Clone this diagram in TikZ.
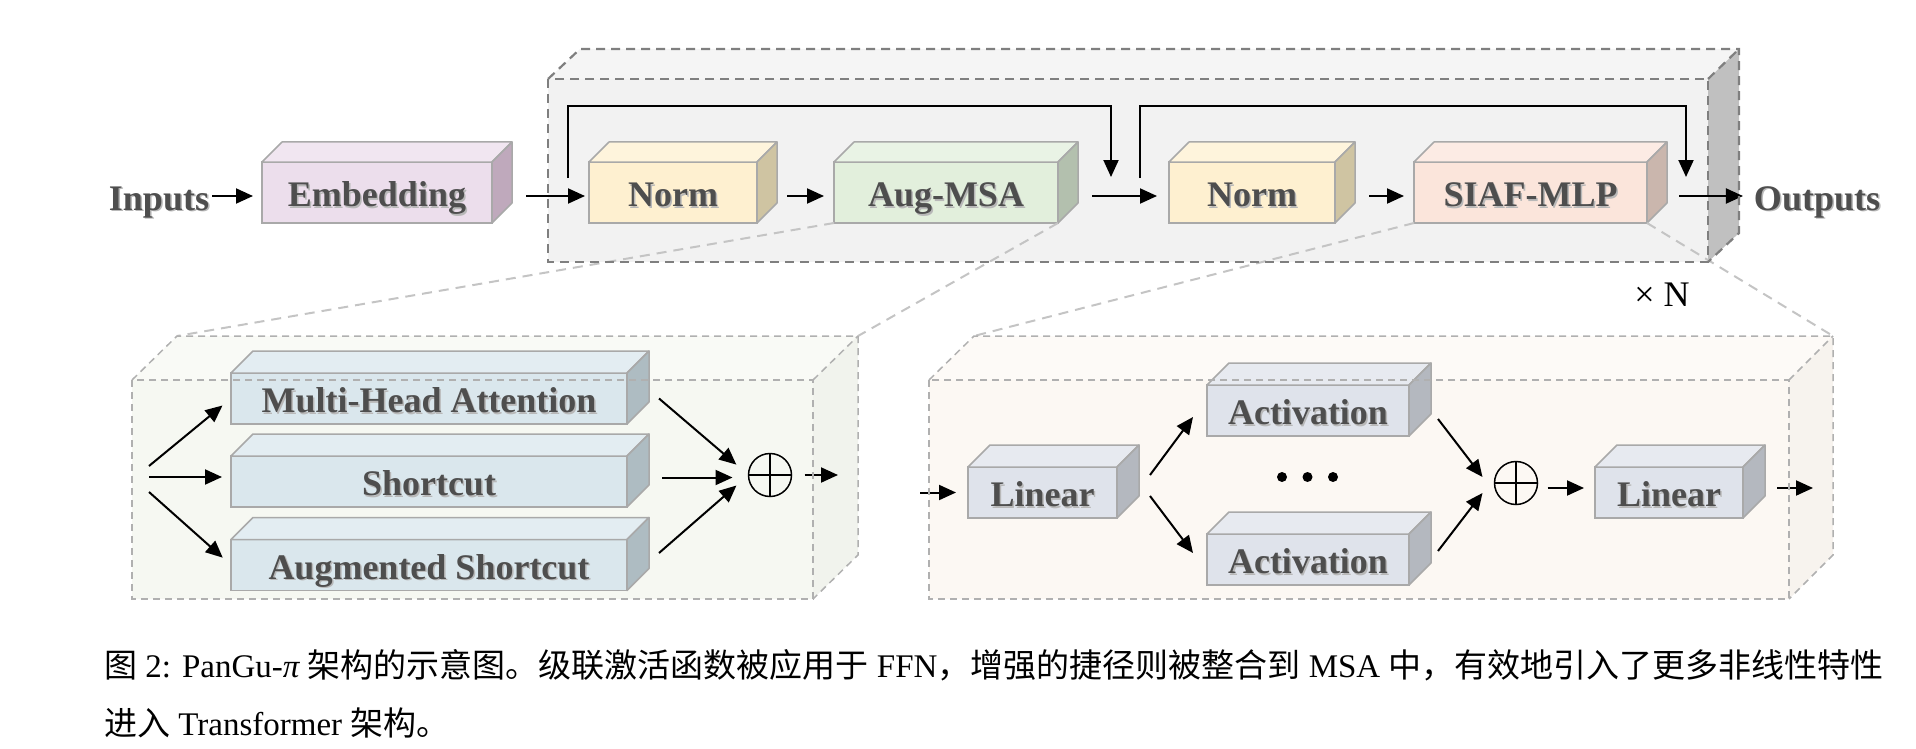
\documentclass[tikz,border=0pt]{standalone}
\usepackage{fontspec}
\setmainfont{Liberation Serif}
\newfontfamily\cjk{Noto Sans CJK SC}
\usetikzlibrary{arrows.meta}
\definecolor{txt}{HTML}{4E4E4E}
\definecolor{boxedge}{HTML}{A9A9A9}
\definecolor{embF}{HTML}{ECDEEC}\definecolor{embS}{HTML}{BFA9BC}
\definecolor{normF}{HTML}{FEF0D0}\definecolor{normS}{HTML}{CFC4A2}
\definecolor{msaF}{HTML}{E2EFDC}\definecolor{msaS}{HTML}{B3C0AE}
\definecolor{siafF}{HTML}{FBE5DB}\definecolor{siafS}{HTML}{CAB6AD}
\definecolor{blF}{HTML}{DAE7ED}\definecolor{blS}{HTML}{AEBCC2}
\definecolor{grF}{HTML}{DFE3EB}\definecolor{grS}{HTML}{B4B8BF}
\definecolor{topC}{HTML}{F2F2F2}\definecolor{topCS}{HTML}{C0C0C0}\definecolor{topCD}{HTML}{7F7F7F}
\definecolor{llC}{HTML}{F6F8F2}\definecolor{lrC}{HTML}{FCF8F3}\definecolor{lowD}{HTML}{B0B0B0}
\definecolor{zoomD}{HTML}{C4C4C4}
\newcommand{\boxfont}{\fontsize{36pt}{40pt}\selectfont\bfseries}
\newcommand{\shd}[1]{\leavevmode\rlap{\kern1.5pt\raisebox{-1.5pt}{\textcolor{black!28}{#1}}}#1}
\tikzset{
  cubef/.style={draw=boxedge, line width=1.5pt, inner sep=0pt, outer sep=0pt, font=\boxfont, text=txt, text height=28pt, text depth=0pt},
  cubeedge/.style={draw=boxedge, line width=1.5pt, line join=round},
  lbl/.style={inner sep=0pt, outer sep=0pt, font=\boxfont, text=txt, text height=28pt, text depth=0pt},
  arr/.style={line width=2pt, -{Triangle[length=17pt,width=15pt]}},
  topdash/.style={draw=topCD, line width=2.2pt, dash pattern=on 9pt off 6pt},
  lowdash/.style={draw=lowD, line width=1.5pt, dash pattern=on 7pt off 5pt},
  zoomline/.style={draw=zoomD, line width=2pt, dash pattern=on 10pt off 7pt},
  oplus/.style={circle, draw, line width=1.5pt, minimum size=43pt, inner sep=0pt, outer sep=0pt,
    path picture={\draw[line width=1.5pt] (path picture bounding box.north) -- (path picture bounding box.south);
                  \draw[line width=1.5pt] (path picture bounding box.west) -- (path picture bounding box.east);}}
}
% name, x, y, w, h, depth, front, side, text
\newcommand{\cuboid}[9]{%
  \node[cubef, fill=#7, minimum width=#4pt, minimum height=#5pt] (#1) at (#2,#3) {\shd{#9}};
  \filldraw[cubeedge, fill=#7!75!white] (#1.north west) -- ++(#6,-#6) -- ([shift={(#6,-#6)}]#1.north east) -- (#1.north east) -- cycle;
  \filldraw[cubeedge, fill=#8] (#1.north east) -- ++(#6,-#6) -- ([shift={(#6,-#6)}]#1.south east) -- (#1.south east) -- cycle;
}
\begin{document}
\begin{tikzpicture}[x=1pt, y=-1pt]
\useasboundingbox (0,0) rectangle (1916,749);

% ---------- container fills ----------
\fill[topC] (548,79) rectangle (1708,262);
\fill[topC!80!white] (548,79) -- (580,49) -- (1739,49) -- (1708,79) -- cycle;
\fill[topCS] (1708,79) -- (1739,49) -- (1739,233) -- (1708,262) -- cycle;

\fill[llC] (132,380) rectangle (813,599);
\fill[llC!70!white] (132,380) -- (177,336) -- (858,336) -- (813,380) -- cycle;
\fill[llC!98!black] (813,380) -- (858,336) -- (858,555) -- (813,599) -- cycle;

\fill[lrC] (929,380) rectangle (1789,599);
\fill[lrC!70!white] (929,380) -- (974,336) -- (1833,336) -- (1789,380) -- cycle;
\fill[lrC!98!black] (1789,380) -- (1833,336) -- (1833,555) -- (1789,599) -- cycle;

\coordinate (llA) at (177,336);
\coordinate (llB) at (858,336);
\coordinate (lrA) at (974,336);
\coordinate (lrB) at (1833,336);

% ---------- top row ----------
\node[lbl] (inputs) at (159,196) {\shd{Inputs}};
\node[lbl] (outputs) at (1817,196) {\shd{Outputs}};
\cuboid{emb}{377}{192.5}{230}{61}{20}{embF}{embS}{Embedding}
\cuboid{norm1}{673}{192.5}{168}{61}{20}{normF}{normS}{Norm}
\cuboid{msa}{946}{192.5}{224}{61}{20}{msaF}{msaS}{Aug-MSA}
\cuboid{norm2}{1252}{192.5}{166}{61}{20}{normF}{normS}{Norm}
\cuboid{siaf}{1530.5}{192.5}{233}{61}{20}{siafF}{siafS}{SIAF-MLP}

% zoom lines
\draw[zoomline] (msa.south west) -- (llA);
\draw[zoomline] (msa.south east) -- (llB);
\draw[zoomline] (siaf.south west) -- (lrA);
\draw[zoomline] (siaf.south east) -- (lrB);

\draw[arr, shorten <=3pt, shorten >=9pt] (inputs.east) -- (emb.west |- inputs.east);
\draw[arr, shorten >=4pt] ([xshift=34pt,yshift=-3.5pt]emb.east) -- ([yshift=-3.5pt]norm1.west);
\draw[arr, shorten >=10pt] ([xshift=30pt,yshift=-3.5pt]norm1.east) -- ([yshift=-3.5pt]msa.west);
\draw[arr, shorten >=12pt] ([xshift=34pt,yshift=-3.5pt]msa.east) -- ([yshift=-3.5pt]norm2.west);
\draw[arr, shorten >=10pt] ([xshift=34pt,yshift=-3.5pt]norm2.east) -- ([yshift=-3.5pt]siaf.west);
\draw[arr, shorten >=11pt] ([xshift=32pt,yshift=-3.5pt]siaf.east) -- (outputs.west);

% skip connections
\coordinate (s1a) at (568,178);
\coordinate (s1b) at (1111,177);
\coordinate (s2a) at (1140,178);
\coordinate (s2b) at (1686,177);
\draw[arr] (s1a) -- ++(0,-72) -| (s1b);
\draw[arr] (s2a) -- ++(0,-72) -| (s2b);

\node[font=\fontsize{36pt}{40pt}\selectfont, inner sep=0pt] (xn) at (1662,295) {× N};

% top container outline
\draw[topdash] (548,79) rectangle (1708,262);
\draw[topdash] (548,79) -- (580,49) -- (1739,49) -- (1739,233) -- (1708,262);
\draw[topdash] (1708,79) -- (1739,49);

% ---------- lower left ----------
\cuboid{mha}{429}{398.5}{396}{51}{22}{blF}{blS}{Multi-Head Attention}
\cuboid{sc}{429}{481.5}{396}{51}{22}{blF}{blS}{Shortcut}
\cuboid{as}{429}{565}{396}{51}{22}{blF}{blS}{Augmented Shortcut}
\node[oplus] (o1) at (770,475) {};
\coordinate (fk) at (149,477);
\coordinate (lo) at (838,475);
\draw[arr, shorten >=11pt] ([yshift=11pt]fk) -- (mha.west);
\draw[arr, shorten >=9pt] (fk) -- (sc.west |- fk);
\draw[arr, shorten >=11pt] ([yshift=-15pt]fk) -- (as.west);
\draw[arr, shorten >=16pt] ([xshift=32pt]mha.east) -- (o1.west);
\draw[arr, shorten >=16pt] ([xshift=35pt,yshift=4pt]sc.east) -- ([yshift=-2.5pt]o1.west);
\draw[arr, shorten >=16pt] ([xshift=32pt,yshift=12pt]as.east) -- (o1.west);
\draw[arr] ([xshift=13pt]o1.east) -- (lo);

\draw[lowdash] (132,380) rectangle (813,599);
\draw[lowdash] (132,380) -- (177,336) -- (858,336) -- (858,555) -- (813,599);
\draw[lowdash] (813,380) -- (858,336);

% ---------- lower right ----------
\cuboid{lin1}{1042.5}{492.5}{149}{51}{22}{grF}{grS}{Linear}
\cuboid{act1}{1308}{410.5}{202}{51}{22}{grF}{grS}{Activation}
\cuboid{act2}{1308}{559.5}{202}{51}{22}{grF}{grS}{Activation}
\cuboid{lin2}{1669}{492.5}{148}{51}{22}{grF}{grS}{Linear}
\node[oplus] (o2) at (1516,483) {};
\fill (1282,477) circle (5pt) (1307.5,477) circle (5pt) (1333,477) circle (5pt);
\coordinate (ri) at (920,492.5);
\coordinate (ro) at (1813,488);
\draw[arr, shorten >=12pt] (ri) -- (lin1.west);
\draw[arr] ([xshift=33pt,yshift=17.5pt]lin1.east) -- ([xshift=-14pt,yshift=-6.5pt]act1.west);
\draw[arr] ([xshift=33pt,yshift=-3.5pt]lin1.east) -- ([xshift=-14pt,yshift=6.5pt]act2.west);
\draw[arr] ([xshift=29pt,yshift=-8.5pt]act1.east) -- ([xshift=-12pt,yshift=6pt]o2.west);
\draw[arr] ([xshift=29pt,yshift=8.5pt]act2.east) -- ([xshift=-12pt,yshift=-10pt]o2.west);
\draw[arr, shorten >=11pt] ([xshift=10pt,yshift=-5pt]o2.east) -- ([yshift=4.5pt]lin2.west);
\draw[arr] ([xshift=34pt,yshift=4.5pt]lin2.east) -- (ro);

\draw[lowdash] (929,380) rectangle (1789,599);
\draw[lowdash] (929,380) -- (974,336) -- (1833,336) -- (1833,555) -- (1789,599);
\draw[lowdash] (1789,380) -- (1833,336);

% ---------- caption ----------
\node[anchor=base west, inner sep=0pt, font=\fontsize{33pt}{36pt}\selectfont] (cap1) at (104,677)
  {{\cjk 图} 2: PanGu-{\itshape π} {\cjk 架构的示意图。级联激活函数被应用于} FFN{\cjk ，增强的捷径则被整合到} MSA {\cjk 中，有效地引入了更多非线性特性}};
\node[anchor=base west, inner sep=0pt, font=\fontsize{33pt}{36pt}\selectfont] (cap2) at (104,735)
  {{\cjk 进入} Transformer {\cjk 架构。}};
\end{tikzpicture}
\end{document}
